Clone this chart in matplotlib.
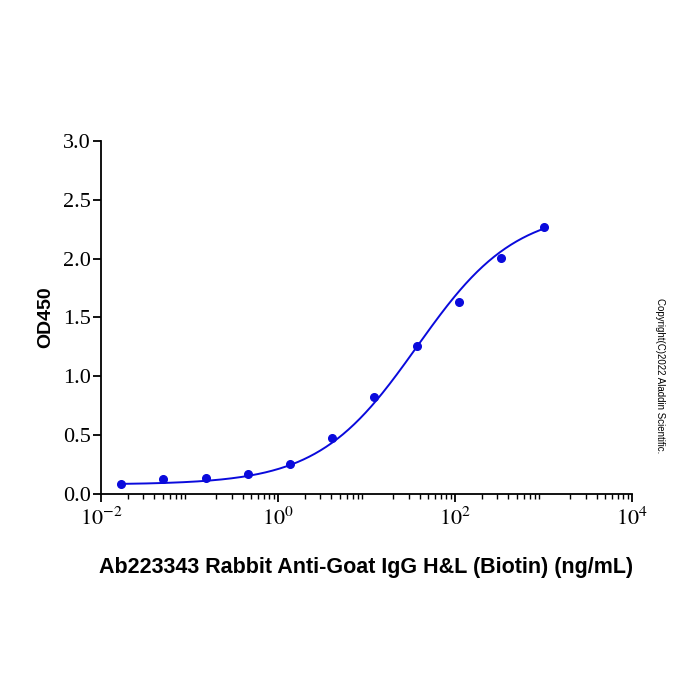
import matplotlib
matplotlib.use("Agg")
import matplotlib.pyplot as plt
import numpy as np

# concentrations (ng/mL), 3-fold dilutions, and OD450 readings
conc = [0.0169, 0.0508, 0.152, 0.457, 1.37, 4.12, 12.3, 37.0, 111.0, 333.0, 1000.0]
od450 = [0.085, 0.125, 0.135, 0.17, 0.255, 0.476, 0.825, 1.258, 1.63, 2.005, 2.27]

# 4PL fit parameters
bottom = 0.08
top = 2.42
ec50 = 37.0
hill = 0.78

plt.rcParams["mathtext.fontset"] = "stix"
blue = "#0a0adc"

fig = plt.figure(figsize=(7, 7), dpi=100)
ax = fig.add_axes([0.1443, 0.2943, 0.7586, 0.5043])

xs = np.logspace(np.log10(conc[0]), np.log10(conc[-1]), 300)
ys = bottom + (top - bottom) * (xs / ec50) ** hill / (1 + (xs / ec50) ** hill)
ax.plot(xs, ys, color=blue, lw=1.4)
ax.plot(conc, od450, "o", color=blue, ms=5.5)

ax.set_xscale("log")
ax.set_xlim(1e-2, 1e4)
ax.set_ylim(0, 3.0)
ax.set_xticks([1e-2, 1e0, 1e2, 1e4])
ax.set_xticklabels([r"$10^{-2}$", r"$10^{0}$", r"$10^{2}$", r"$10^{4}$"])
ax.set_yticks(np.arange(0, 3.01, 0.5))
ax.set_yticklabels([f"{v:.1f}" for v in np.arange(0, 3.01, 0.5)])

for s in ["top", "right"]:
    ax.spines[s].set_visible(False)
for s in ["left", "bottom"]:
    ax.spines[s].set_linewidth(1.3)

ax.tick_params(which="major", direction="out", length=6, width=1.3, labelsize=16)
ax.tick_params(axis="y", pad=1.5)
ax.tick_params(which="minor", direction="out", length=3.5, width=1.0)
for lab in ax.get_xticklabels() + ax.get_yticklabels():
    lab.set_family("Liberation Serif")

ax.set_ylabel("OD450", family="Liberation Sans", fontweight="bold", fontsize=14, labelpad=6)
ax.set_xlabel("Ab223343 Rabbit Anti-Goat IgG H&L (Biotin) (ng/mL)",
              family="Liberation Sans", fontweight="bold", fontsize=15.5, labelpad=20)

fig.text(0.943, 0.464, "Copyright(C)2022 Aladdin Scientific.", rotation=-90,
         family="Liberation Sans", fontsize=7, ha="center", va="center")

fig.savefig("out.png", dpi=100)
